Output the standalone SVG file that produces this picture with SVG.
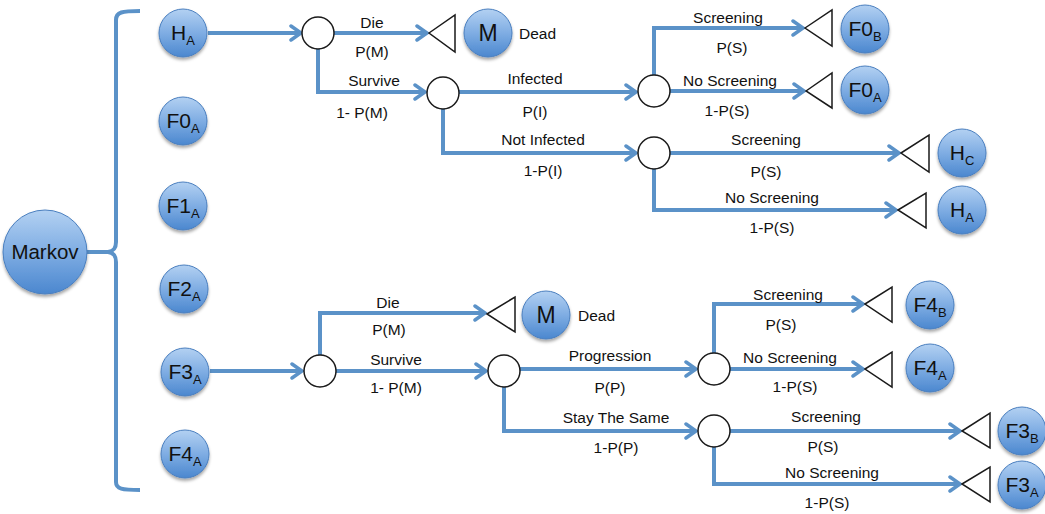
<svg xmlns="http://www.w3.org/2000/svg" width="1045" height="514" viewBox="0 0 1045 514">
  <defs>
    <linearGradient id="stateFill" x1="0" y1="0" x2="0" y2="1">
      <stop offset="0" stop-color="#b3d1f2"/>
      <stop offset="0.5" stop-color="#7fadE3"/>
      <stop offset="1" stop-color="#4b87cf"/>
    </linearGradient>
    <filter id="shadow" x="-30%" y="-30%" width="160%" height="170%">
      <feDropShadow dx="0" dy="2.5" stdDeviation="1.6" flood-color="#000" flood-opacity="0.35"/>
    </filter>
    <marker id="arrow" viewBox="-12 -9 14 18" markerWidth="14" markerHeight="18" refX="0" refY="0" orient="auto" markerUnits="userSpaceOnUse">
      <path d="M-10,-7 L0,0 L-10,7" fill="none" stroke="#5b92c8" stroke-width="3.5" stroke-linejoin="miter" stroke-linecap="round"/>
    </marker>
  </defs>
  <style>
    .link { fill: none; stroke: #5b92c8; stroke-width: 4; }
    .arr { marker-end: url(#arrow); }
    .chance { fill: #ffffff; stroke: #1a1a1a; stroke-width: 1.5; }
    .term { fill: #ffffff; stroke: #1a1a1a; stroke-width: 1.5; stroke-linejoin: miter; }
    .state { fill: url(#stateFill); stroke: #4a7fbf; stroke-width: 1; filter: url(#shadow); }
    .lbl { font-family: "Liberation Sans", Arial, sans-serif; font-size: 15.5px; fill: #111; text-anchor: middle; }
    .st { font-family: "Liberation Sans", Arial, sans-serif; font-size: 21px; fill: #111; text-anchor: middle; }
    .sub { font-size: 13px; }
    .big { font-family: "Liberation Sans", Arial, sans-serif; font-size: 23px; fill: #111; text-anchor: middle; }
    .dead { font-family: "Liberation Sans", Arial, sans-serif; font-size: 15.5px; fill: #111; }
  </style>

  <rect width="1045" height="514" fill="#ffffff"/>

  <!-- connectors -->
  <g id="connectors">
    <path class="link" d="M140,11 C122,11 116,12 116,20 V242 C116,248 114,251 108,252 C114,253 116,256 116,262 V482 C116,489 122,490 140,490"/>
    <path class="link" d="M86,252 H108"/>

    <!-- upper tree -->
    <path class="link arr" d="M208,33 H301"/>
    <path class="link arr" d="M334,33 H427"/>
    <path class="link arr" d="M318,49 V92 H425"/>
    <path class="link arr" d="M459,92 H636"/>
    <path class="link arr" d="M443,109 V153 H636"/>
    <path class="link arr" d="M654,75 V28 H803"/>
    <path class="link arr" d="M670,91 H804"/>
    <path class="link arr" d="M670,153 H899"/>
    <path class="link arr" d="M654,169 V210 H896"/>

    <!-- lower tree -->
    <path class="link arr" d="M210,371 H302"/>
    <path class="link arr" d="M320,355 V313 H485"/>
    <path class="link arr" d="M336,371 H486"/>
    <path class="link arr" d="M520,369 H696"/>
    <path class="link arr" d="M504,387 V431 H696"/>
    <path class="link arr" d="M714,353 V304 H863"/>
    <path class="link arr" d="M730,369 H863"/>
    <path class="link arr" d="M730,431 H960"/>
    <path class="link arr" d="M714,447 V484 H960"/>
  </g>

  <!-- branch labels -->
  <g id="labels">
    <text class="lbl" x="372" y="28">Die</text>
    <text class="lbl" x="372" y="57">P(M)</text>
    <text class="lbl" x="374" y="86">Survive</text>
    <text class="lbl" x="362" y="118">1- P(M)</text>
    <text class="lbl" x="535" y="84">Infected</text>
    <text class="lbl" x="535" y="117">P(I)</text>
    <text class="lbl" x="543" y="145">Not Infected</text>
    <text class="lbl" x="543" y="176">1-P(I)</text>
    <text class="lbl" x="728" y="23">Screening</text>
    <text class="lbl" x="732" y="53">P(S)</text>
    <text class="lbl" x="730" y="86">No Screening</text>
    <text class="lbl" x="727" y="116">1-P(S)</text>
    <text class="lbl" x="766" y="145">Screening</text>
    <text class="lbl" x="766" y="177">P(S)</text>
    <text class="lbl" x="772" y="203">No Screening</text>
    <text class="lbl" x="772" y="233">1-P(S)</text>

    <text class="lbl" x="388" y="308">Die</text>
    <text class="lbl" x="389" y="335">P(M)</text>
    <text class="lbl" x="396" y="365">Survive</text>
    <text class="lbl" x="396" y="393">1- P(M)</text>
    <text class="lbl" x="610" y="361">Progression</text>
    <text class="lbl" x="610" y="393">P(P)</text>
    <text class="lbl" x="616" y="423">Stay The Same</text>
    <text class="lbl" x="616" y="453">1-P(P)</text>
    <text class="lbl" x="788" y="300">Screening</text>
    <text class="lbl" x="781" y="330">P(S)</text>
    <text class="lbl" x="790" y="363">No Screening</text>
    <text class="lbl" x="795" y="392">1-P(S)</text>
    <text class="lbl" x="826" y="422">Screening</text>
    <text class="lbl" x="823" y="452">P(S)</text>
    <text class="lbl" x="832" y="478">No Screening</text>
    <text class="lbl" x="827" y="508">1-P(S)</text>
  </g>

  <!-- Markov root -->
  <g id="markov">
    <circle class="state" cx="45" cy="252" r="42"/>
    <text class="st" x="45" y="259" style="font-size:20.5px">Markov</text>
  </g>

  <!-- Markov states -->
  <g id="state-HA"><circle class="state" cx="183" cy="33" r="24"/><text class="st" x="183" y="40">H<tspan class="sub" dy="5">A</tspan></text></g>
  <g id="state-F0A"><circle class="state" cx="183" cy="121" r="24"/><text class="st" x="183" y="128">F0<tspan class="sub" dy="5">A</tspan></text></g>
  <g id="state-F1A"><circle class="state" cx="183" cy="206" r="24"/><text class="st" x="183" y="213">F1<tspan class="sub" dy="5">A</tspan></text></g>
  <g id="state-F2A"><circle class="state" cx="184" cy="289" r="24"/><text class="st" x="184" y="296">F2<tspan class="sub" dy="5">A</tspan></text></g>
  <g id="state-F3A"><circle class="state" cx="185" cy="372" r="24"/><text class="st" x="185" y="379">F3<tspan class="sub" dy="5">A</tspan></text></g>
  <g id="state-F4A"><circle class="state" cx="185" cy="454" r="24"/><text class="st" x="185" y="461">F4<tspan class="sub" dy="5">A</tspan></text></g>

  <!-- chance nodes -->
  <g id="chance-1"><circle class="chance" cx="318" cy="33" r="16"/></g>
  <g id="chance-2"><circle class="chance" cx="443" cy="93" r="16"/></g>
  <g id="chance-3"><circle class="chance" cx="654" cy="91" r="16"/></g>
  <g id="chance-4"><circle class="chance" cx="654" cy="153" r="16"/></g>
  <g id="chance-5"><circle class="chance" cx="320" cy="371" r="16"/></g>
  <g id="chance-6"><circle class="chance" cx="504" cy="371" r="16"/></g>
  <g id="chance-7"><circle class="chance" cx="714" cy="369" r="16"/></g>
  <g id="chance-8"><circle class="chance" cx="714" cy="431" r="16"/></g>

  <!-- terminal nodes -->
  <g id="term-1"><polygon class="term" points="429,33 455,15 455,52"/></g>
  <g id="term-2"><polygon class="term" points="805,28 832,10 832,46"/></g>
  <g id="term-3"><polygon class="term" points="806,91 832,73 832,108"/></g>
  <g id="term-4"><polygon class="term" points="901,153 929,135 929,172"/></g>
  <g id="term-5"><polygon class="term" points="898,210 926,193 926,228"/></g>
  <g id="term-6"><polygon class="term" points="487,314 515,297 515,332"/></g>
  <g id="term-7"><polygon class="term" points="865,304 892,287 892,322"/></g>
  <g id="term-8"><polygon class="term" points="865,369 892,352 892,387"/></g>
  <g id="term-9"><polygon class="term" points="962,431 990,413 990,448"/></g>
  <g id="term-10"><polygon class="term" points="962,484 990,467 990,502"/></g>

  <!-- outcome states -->
  <g id="out-M-upper"><circle class="state" cx="488" cy="33" r="24"/><text class="big" x="488" y="41">M</text><text class="dead" x="519" y="39">Dead</text></g>
  <g id="out-F0B"><circle class="state" cx="865" cy="29" r="24"/><text class="st" x="865" y="36">F0<tspan class="sub" dy="5">B</tspan></text></g>
  <g id="out-F0A"><circle class="state" cx="865" cy="90" r="24"/><text class="st" x="865" y="97">F0<tspan class="sub" dy="5">A</tspan></text></g>
  <g id="out-HC"><circle class="state" cx="962" cy="153" r="24"/><text class="st" x="962" y="160">H<tspan class="sub" dy="5">C</tspan></text></g>
  <g id="out-HA"><circle class="state" cx="962" cy="210" r="24"/><text class="st" x="962" y="217">H<tspan class="sub" dy="5">A</tspan></text></g>
  <g id="out-M-lower"><circle class="state" cx="546" cy="315" r="24"/><text class="big" x="546" y="323">M</text><text class="dead" x="578" y="321">Dead</text></g>
  <g id="out-F4B"><circle class="state" cx="930" cy="305" r="24"/><text class="st" x="930" y="312">F4<tspan class="sub" dy="5">B</tspan></text></g>
  <g id="out-F4A"><circle class="state" cx="930" cy="368" r="24"/><text class="st" x="930" y="375">F4<tspan class="sub" dy="5">A</tspan></text></g>
  <g id="out-F3B"><circle class="state" cx="1022" cy="431" r="24"/><text class="st" x="1022" y="438">F3<tspan class="sub" dy="5">B</tspan></text></g>
  <g id="out-F3A"><circle class="state" cx="1022" cy="485" r="24"/><text class="st" x="1022" y="492">F3<tspan class="sub" dy="5">A</tspan></text></g>
</svg>
